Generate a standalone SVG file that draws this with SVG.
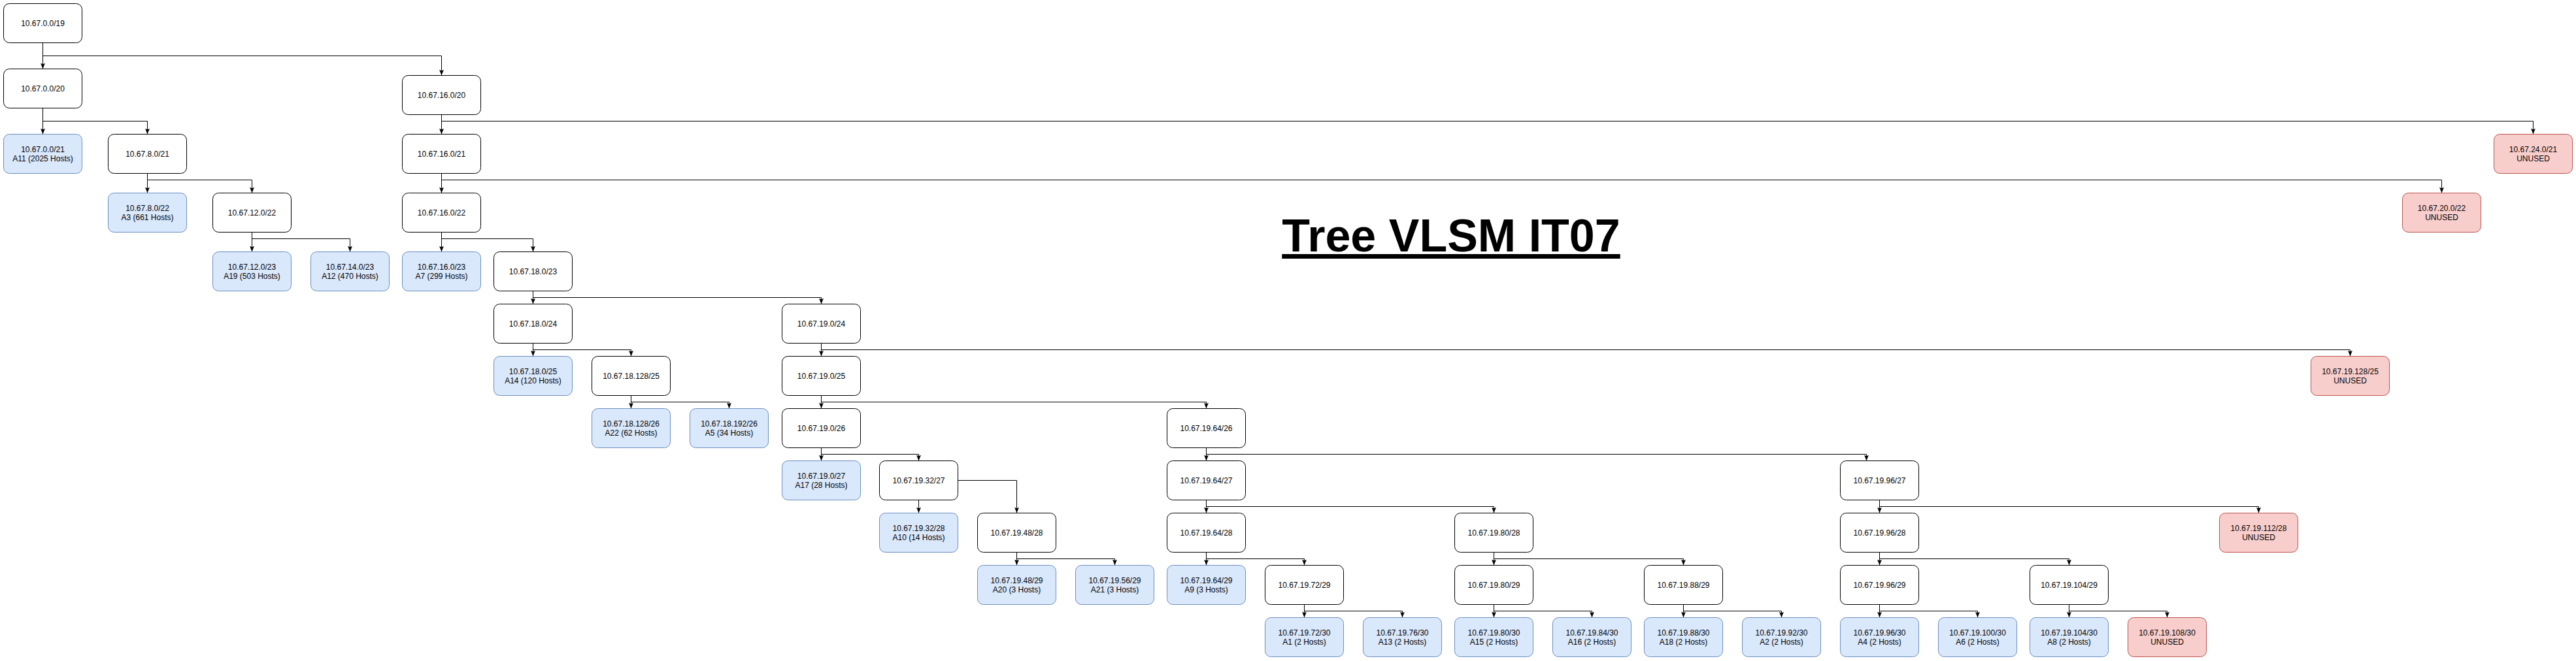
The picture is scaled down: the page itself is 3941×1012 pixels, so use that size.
<svg xmlns="http://www.w3.org/2000/svg" width="3941" height="1012" viewBox="0 0 3941 1012">
<style>
text{font-family:"Liberation Sans",Arial,Helvetica,sans-serif;font-size:12px;text-anchor:middle;fill:#000}
.n rect{fill:#fff;stroke:#000;stroke-width:1}
.b rect{fill:#dae8fc;stroke:#6c8ebf;stroke-width:1}
.r rect{fill:#f8cecc;stroke:#b85450;stroke-width:1}
#edges path{fill:none;stroke:#000;stroke-width:1;marker-end:url(#arr)}
.title{font-size:70px;font-weight:bold;text-decoration:underline}
</style>
<defs>
<marker id="arr" markerUnits="userSpaceOnUse" markerWidth="10" markerHeight="8" refX="9" refY="4" orient="auto">
<path d="M0,0.5 L9,4 L0,7.5 L2,4 Z" fill="#000"/>
</marker>
</defs>
<rect x="0" y="0" width="3941" height="1012" fill="#fff"/>
<g id="edges">
<path d="M65.5,65.5 V105.5"/>
<path d="M65.5,65.5 V85.5 H675.5 V115.5"/>
<path d="M65.5,165.5 V205.5"/>
<path d="M65.5,165.5 V185.5 H225.5 V205.5"/>
<path d="M225.5,265.5 V295.5"/>
<path d="M225.5,265.5 V275.5 H385.5 V295.5"/>
<path d="M385.5,355.5 V385.5"/>
<path d="M385.5,355.5 V365.5 H535.5 V385.5"/>
<path d="M675.5,175.5 V205.5"/>
<path d="M675.5,175.5 V185.5 H3875.5 V205.5"/>
<path d="M675.5,265.5 V295.5"/>
<path d="M675.5,265.5 V275.5 H3735.5 V295.5"/>
<path d="M675.5,355.5 V385.5"/>
<path d="M675.5,355.5 V365.5 H815.5 V385.5"/>
<path d="M815.5,445.5 V465.5"/>
<path d="M815.5,445.5 V455.5 H1256.5 V465.5"/>
<path d="M815.5,525.5 V545.5"/>
<path d="M815.5,525.5 V535.5 H965.5 V545.5"/>
<path d="M965.5,605.5 V625.5"/>
<path d="M965.5,605.5 V615.5 H1115.5 V625.5"/>
<path d="M1256.5,525.5 V545.5"/>
<path d="M1256.5,525.5 V535.5 H3595.5 V545.5"/>
<path d="M1256.5,605.5 V625.5"/>
<path d="M1256.5,605.5 V615.5 H1845.5 V625.5"/>
<path d="M1256.5,685.5 V705.5"/>
<path d="M1256.5,685.5 V695.5 H1405.5 V705.5"/>
<path d="M1405.5,765.5 V785.5"/>
<path d="M1465.5,735.5 H1555.5 V785.5"/>
<path d="M1555.5,845.5 V865.5"/>
<path d="M1555.5,845.5 V855.5 H1705.5 V865.5"/>
<path d="M1845.5,685.5 V705.5"/>
<path d="M1845.5,685.5 V695.5 H2855.5 V705.5"/>
<path d="M1845.5,765.5 V785.5"/>
<path d="M1845.5,765.5 V775.5 H2285.5 V785.5"/>
<path d="M1845.5,845.5 V865.5"/>
<path d="M1845.5,845.5 V855.5 H1995.5 V865.5"/>
<path d="M1995.5,925.5 V945.5"/>
<path d="M1995.5,925.5 V935.5 H2145.5 V945.5"/>
<path d="M2285.5,845.5 V865.5"/>
<path d="M2285.5,845.5 V855.5 H2575.5 V865.5"/>
<path d="M2285.5,925.5 V945.5"/>
<path d="M2285.5,925.5 V935.5 H2435.5 V945.5"/>
<path d="M2575.5,925.5 V945.5"/>
<path d="M2575.5,925.5 V935.5 H2725.5 V945.5"/>
<path d="M2875.5,765.5 V785.5"/>
<path d="M2875.5,765.5 V775.5 H3455.5 V785.5"/>
<path d="M2875.5,845.5 V865.5"/>
<path d="M2875.5,845.5 V855.5 H3165.5 V865.5"/>
<path d="M2875.5,925.5 V945.5"/>
<path d="M2875.5,925.5 V935.5 H3025.5 V945.5"/>
<path d="M3165.5,925.5 V945.5"/>
<path d="M3165.5,925.5 V935.5 H3315.5 V945.5"/>
</g>
<g id="n01" class="n"><rect x="5.5" y="5.5" width="120" height="60" rx="9"/><text x="65.5" y="39.5">10.67.0.0/19</text></g>
<g id="n02" class="n"><rect x="5.5" y="105.5" width="120" height="60" rx="9"/><text x="65.5" y="139.5">10.67.0.0/20</text></g>
<g id="n03" class="n"><rect x="615.5" y="115.5" width="120" height="60" rx="9"/><text x="675.5" y="149.5">10.67.16.0/20</text></g>
<g id="n04" class="b"><rect x="5.5" y="205.5" width="120" height="60" rx="9"/><text x="65.5" y="232.7">10.67.0.0/21<tspan x="65.5" dy="14.4">A11 (2025 Hosts)</tspan></text></g>
<g id="n05" class="n"><rect x="165.5" y="205.5" width="120" height="60" rx="9"/><text x="225.5" y="239.5">10.67.8.0/21</text></g>
<g id="n06" class="n"><rect x="615.5" y="205.5" width="120" height="60" rx="9"/><text x="675.5" y="239.5">10.67.16.0/21</text></g>
<g id="n07" class="r"><rect x="3815.5" y="205.5" width="120" height="60" rx="9"/><text x="3875.5" y="232.7">10.67.24.0/21<tspan x="3875.5" dy="14.4">UNUSED</tspan></text></g>
<g id="n08" class="b"><rect x="165.5" y="295.5" width="120" height="60" rx="9"/><text x="225.5" y="322.7">10.67.8.0/22<tspan x="225.5" dy="14.4">A3 (661 Hosts)</tspan></text></g>
<g id="n09" class="n"><rect x="325.5" y="295.5" width="120" height="60" rx="9"/><text x="385.5" y="329.5">10.67.12.0/22</text></g>
<g id="n10" class="n"><rect x="615.5" y="295.5" width="120" height="60" rx="9"/><text x="675.5" y="329.5">10.67.16.0/22</text></g>
<g id="n11" class="r"><rect x="3675.5" y="295.5" width="120" height="60" rx="9"/><text x="3735.5" y="322.7">10.67.20.0/22<tspan x="3735.5" dy="14.4">UNUSED</tspan></text></g>
<g id="n12" class="b"><rect x="325.5" y="385.5" width="120" height="60" rx="9"/><text x="385.5" y="412.7">10.67.12.0/23<tspan x="385.5" dy="14.4">A19 (503 Hosts)</tspan></text></g>
<g id="n13" class="b"><rect x="475.5" y="385.5" width="120" height="60" rx="9"/><text x="535.5" y="412.7">10.67.14.0/23<tspan x="535.5" dy="14.4">A12 (470 Hosts)</tspan></text></g>
<g id="n14" class="b"><rect x="615.5" y="385.5" width="120" height="60" rx="9"/><text x="675.5" y="412.7">10.67.16.0/23<tspan x="675.5" dy="14.4">A7 (299 Hosts)</tspan></text></g>
<g id="n15" class="n"><rect x="755.5" y="385.5" width="120" height="60" rx="9"/><text x="815.5" y="419.5">10.67.18.0/23</text></g>
<g id="n16" class="n"><rect x="755.5" y="465.5" width="120" height="60" rx="9"/><text x="815.5" y="499.5">10.67.18.0/24</text></g>
<g id="n17" class="n"><rect x="1196.5" y="465.5" width="120" height="60" rx="9"/><text x="1256.5" y="499.5">10.67.19.0/24</text></g>
<g id="n18" class="b"><rect x="755.5" y="545.5" width="120" height="60" rx="9"/><text x="815.5" y="572.7">10.67.18.0/25<tspan x="815.5" dy="14.4">A14 (120 Hosts)</tspan></text></g>
<g id="n19" class="n"><rect x="905.5" y="545.5" width="120" height="60" rx="9"/><text x="965.5" y="579.5">10.67.18.128/25</text></g>
<g id="n20" class="n"><rect x="1196.5" y="545.5" width="120" height="60" rx="9"/><text x="1256.5" y="579.5">10.67.19.0/25</text></g>
<g id="n21" class="r"><rect x="3535.5" y="545.5" width="120" height="60" rx="9"/><text x="3595.5" y="572.7">10.67.19.128/25<tspan x="3595.5" dy="14.4">UNUSED</tspan></text></g>
<g id="n22" class="b"><rect x="905.5" y="625.5" width="120" height="60" rx="9"/><text x="965.5" y="652.7">10.67.18.128/26<tspan x="965.5" dy="14.4">A22 (62 Hosts)</tspan></text></g>
<g id="n23" class="b"><rect x="1055.5" y="625.5" width="120" height="60" rx="9"/><text x="1115.5" y="652.7">10.67.18.192/26<tspan x="1115.5" dy="14.4">A5 (34 Hosts)</tspan></text></g>
<g id="n24" class="n"><rect x="1196.5" y="625.5" width="120" height="60" rx="9"/><text x="1256.5" y="659.5">10.67.19.0/26</text></g>
<g id="n25" class="n"><rect x="1785.5" y="625.5" width="120" height="60" rx="9"/><text x="1845.5" y="659.5">10.67.19.64/26</text></g>
<g id="n26" class="b"><rect x="1196.5" y="705.5" width="120" height="60" rx="9"/><text x="1256.5" y="732.7">10.67.19.0/27<tspan x="1256.5" dy="14.4">A17 (28 Hosts)</tspan></text></g>
<g id="n27" class="n"><rect x="1345.5" y="705.5" width="120" height="60" rx="9"/><text x="1405.5" y="739.5">10.67.19.32/27</text></g>
<g id="n28" class="n"><rect x="1785.5" y="705.5" width="120" height="60" rx="9"/><text x="1845.5" y="739.5">10.67.19.64/27</text></g>
<g id="n29" class="n"><rect x="2815.5" y="705.5" width="120" height="60" rx="9"/><text x="2875.5" y="739.5">10.67.19.96/27</text></g>
<g id="n30" class="b"><rect x="1345.5" y="785.5" width="120" height="60" rx="9"/><text x="1405.5" y="812.7">10.67.19.32/28<tspan x="1405.5" dy="14.4">A10 (14 Hosts)</tspan></text></g>
<g id="n31" class="n"><rect x="1495.5" y="785.5" width="120" height="60" rx="9"/><text x="1555.5" y="819.5">10.67.19.48/28</text></g>
<g id="n32" class="n"><rect x="1785.5" y="785.5" width="120" height="60" rx="9"/><text x="1845.5" y="819.5">10.67.19.64/28</text></g>
<g id="n33" class="n"><rect x="2225.5" y="785.5" width="120" height="60" rx="9"/><text x="2285.5" y="819.5">10.67.19.80/28</text></g>
<g id="n34" class="n"><rect x="2815.5" y="785.5" width="120" height="60" rx="9"/><text x="2875.5" y="819.5">10.67.19.96/28</text></g>
<g id="n35" class="r"><rect x="3395.5" y="785.5" width="120" height="60" rx="9"/><text x="3455.5" y="812.7">10.67.19.112/28<tspan x="3455.5" dy="14.4">UNUSED</tspan></text></g>
<g id="n36" class="b"><rect x="1495.5" y="865.5" width="120" height="60" rx="9"/><text x="1555.5" y="892.7">10.67.19.48/29<tspan x="1555.5" dy="14.4">A20 (3 Hosts)</tspan></text></g>
<g id="n37" class="b"><rect x="1645.5" y="865.5" width="120" height="60" rx="9"/><text x="1705.5" y="892.7">10.67.19.56/29<tspan x="1705.5" dy="14.4">A21 (3 Hosts)</tspan></text></g>
<g id="n38" class="b"><rect x="1785.5" y="865.5" width="120" height="60" rx="9"/><text x="1845.5" y="892.7">10.67.19.64/29<tspan x="1845.5" dy="14.4">A9 (3 Hosts)</tspan></text></g>
<g id="n39" class="n"><rect x="1935.5" y="865.5" width="120" height="60" rx="9"/><text x="1995.5" y="899.5">10.67.19.72/29</text></g>
<g id="n40" class="n"><rect x="2225.5" y="865.5" width="120" height="60" rx="9"/><text x="2285.5" y="899.5">10.67.19.80/29</text></g>
<g id="n41" class="n"><rect x="2515.5" y="865.5" width="120" height="60" rx="9"/><text x="2575.5" y="899.5">10.67.19.88/29</text></g>
<g id="n42" class="n"><rect x="2815.5" y="865.5" width="120" height="60" rx="9"/><text x="2875.5" y="899.5">10.67.19.96/29</text></g>
<g id="n43" class="n"><rect x="3105.5" y="865.5" width="120" height="60" rx="9"/><text x="3165.5" y="899.5">10.67.19.104/29</text></g>
<g id="n44" class="b"><rect x="1935.5" y="945.5" width="120" height="60" rx="9"/><text x="1995.5" y="972.7">10.67.19.72/30<tspan x="1995.5" dy="14.4">A1 (2 Hosts)</tspan></text></g>
<g id="n45" class="b"><rect x="2085.5" y="945.5" width="120" height="60" rx="9"/><text x="2145.5" y="972.7">10.67.19.76/30<tspan x="2145.5" dy="14.4">A13 (2 Hosts)</tspan></text></g>
<g id="n46" class="b"><rect x="2225.5" y="945.5" width="120" height="60" rx="9"/><text x="2285.5" y="972.7">10.67.19.80/30<tspan x="2285.5" dy="14.4">A15 (2 Hosts)</tspan></text></g>
<g id="n47" class="b"><rect x="2375.5" y="945.5" width="120" height="60" rx="9"/><text x="2435.5" y="972.7">10.67.19.84/30<tspan x="2435.5" dy="14.4">A16 (2 Hosts)</tspan></text></g>
<g id="n48" class="b"><rect x="2515.5" y="945.5" width="120" height="60" rx="9"/><text x="2575.5" y="972.7">10.67.19.88/30<tspan x="2575.5" dy="14.4">A18 (2 Hosts)</tspan></text></g>
<g id="n49" class="b"><rect x="2665.5" y="945.5" width="120" height="60" rx="9"/><text x="2725.5" y="972.7">10.67.19.92/30<tspan x="2725.5" dy="14.4">A2 (2 Hosts)</tspan></text></g>
<g id="n50" class="b"><rect x="2815.5" y="945.5" width="120" height="60" rx="9"/><text x="2875.5" y="972.7">10.67.19.96/30<tspan x="2875.5" dy="14.4">A4 (2 Hosts)</tspan></text></g>
<g id="n51" class="b"><rect x="2965.5" y="945.5" width="120" height="60" rx="9"/><text x="3025.5" y="972.7">10.67.19.100/30<tspan x="3025.5" dy="14.4">A6 (2 Hosts)</tspan></text></g>
<g id="n52" class="b"><rect x="3105.5" y="945.5" width="120" height="60" rx="9"/><text x="3165.5" y="972.7">10.67.19.104/30<tspan x="3165.5" dy="14.4">A8 (2 Hosts)</tspan></text></g>
<g id="n53" class="r"><rect x="3255.5" y="945.5" width="120" height="60" rx="9"/><text x="3315.5" y="972.7">10.67.19.108/30<tspan x="3315.5" dy="14.4">UNUSED</tspan></text></g>
<g id="title"><text class="title" x="2220" y="385">Tree VLSM IT07</text></g>
</svg>
